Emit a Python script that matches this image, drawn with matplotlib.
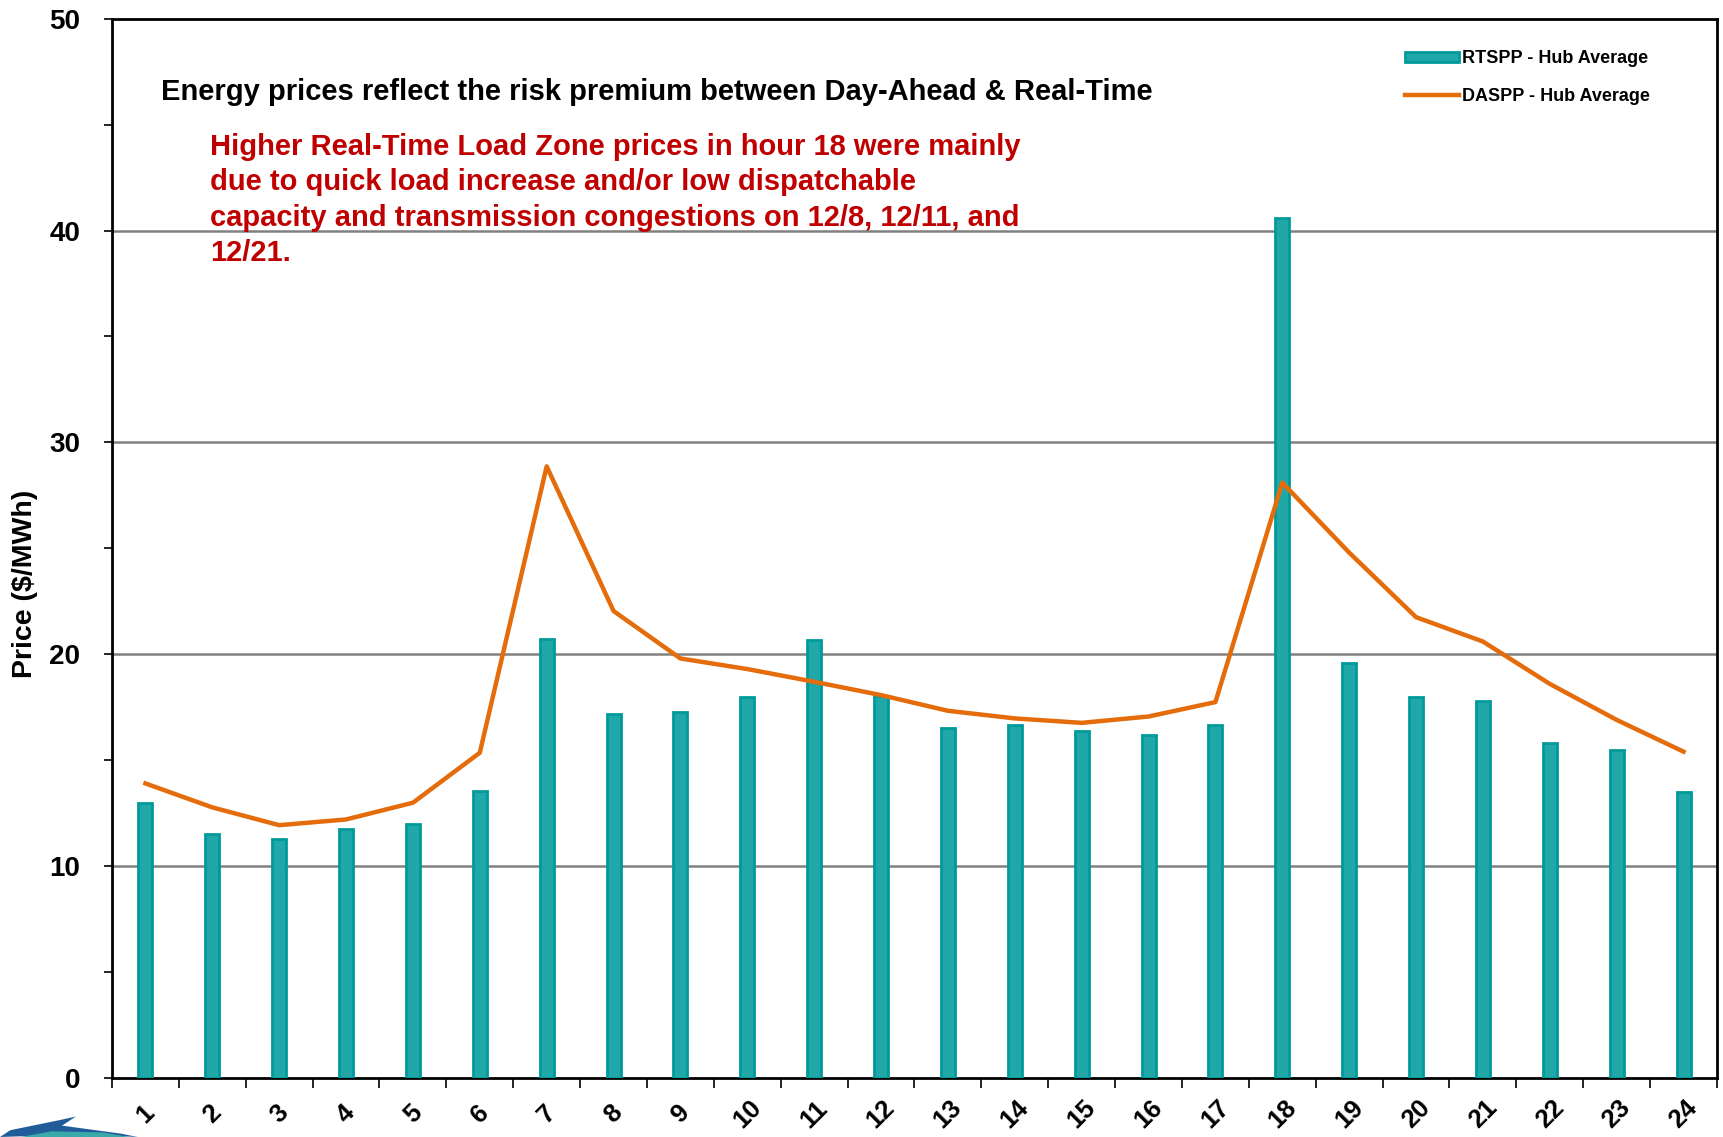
import numpy as np
import matplotlib.pyplot as plt
from matplotlib.patches import Patch, Polygon
from matplotlib.lines import Line2D

# Hourly prices ($/MWh)
hours = [str(h) for h in range(1, 25)]
rtspp = [13.0, 11.5, 11.26, 11.73, 11.98, 13.55, 20.7, 17.2, 17.25, 18.0, 20.66, 18.05,
         16.54, 16.65, 16.37, 16.2, 16.65, 40.6, 19.6, 18.0, 17.8, 15.8, 15.5, 13.5]
daspp = [13.9, 12.77, 11.93, 12.2, 12.99, 15.35, 28.87, 22.04, 19.8, 19.3, 18.7, 18.07,
         17.33, 16.97, 16.76, 17.06, 17.74, 28.1, 24.8, 21.75, 20.6, 18.6, 16.9, 15.4]

title_text = "Energy prices reflect the risk premium between Day-Ahead & Real-Time"
note_lines = ["Higher Real-Time Load Zone prices in hour 18 were mainly",
              "due to quick load increase and/or low dispatchable",
              "capacity and transmission congestions on 12/8, 12/11, and",
              "12/21."]

teal = '#20A8A8'
teal_edge = '#009A9A'
orange = '#E46C0A'
red = '#C00000'

plt.rcParams['font.family'] = ['Liberation Sans', 'DejaVu Sans']
plt.rcParams['font.weight'] = 'bold'

fig = plt.figure(figsize=(17.23, 11.37), dpi=100)
ax = fig.add_axes([0.065, 0.052, 0.9315, 0.9315])

x = np.arange(len(hours))
ax.bar(x, rtspp, width=0.21, color=teal, edgecolor=teal_edge, linewidth=2, zorder=3)
ax.plot(x, daspp, color=orange, linewidth=3.2, zorder=4, solid_joinstyle='round')

ax.set_xlim(-0.5, len(hours) - 0.5)
ax.set_ylim(0, 50)

# y axis: ticks every 5, labels on the tens
ax.set_yticks(np.arange(0, 51, 5))
ax.set_yticklabels([str(v) if v % 10 == 0 else '' for v in range(0, 51, 5)],
                   fontsize=20, fontweight='bold')
for v in [10, 20, 30, 40]:
    ax.axhline(v, color='#808080', linewidth=1.8, zorder=1)

# x axis: ticks on the category boundaries, labels in the middle
ax.set_xticks(np.arange(-0.5, len(hours), 1.0))
ax.set_xticklabels([])
ax.set_xticks(x, minor=True)
ax.set_xticklabels(hours, minor=True, rotation=45, fontsize=18.5, fontweight='bold',
                   ha='center', va='center')
ax.tick_params(axis='x', which='minor', length=0, pad=26)
ax.tick_params(axis='x', which='major', length=7, width=1.2, direction='out')
ax.tick_params(axis='y', length=6, width=1.2, direction='out', pad=17)

for s in ax.spines.values():
    s.set_linewidth(2)
    s.set_color('black')

ax.set_ylabel('Price ($/MWh)', fontsize=20.5, fontweight='bold')
ax.yaxis.set_label_coords(-0.046, 0.466)

fig.text(0.0935, 0.919, title_text, fontsize=21, fontweight='bold',
         color='black', va='center', ha='left')
for i, line in enumerate(note_lines):
    fig.text(0.122, 0.871 - i * 0.0312, line, fontsize=21, fontweight='bold',
             color=red, va='center', ha='left')

handles = [Patch(facecolor=teal, edgecolor=teal_edge, linewidth=2),
           Line2D([0], [0], color=orange, linewidth=3.2)]
leg = fig.legend(handles, ['RTSPP - Hub Average', 'DASPP - Hub Average'],
                 loc='upper left', bbox_to_anchor=(0.806, 0.97), frameon=False,
                 fontsize=13, handlelength=3.0, handleheight=0.5, handletextpad=0.15,
                 labelspacing=1.15)
for t in leg.get_texts():
    t.set_fontweight('bold')

# partial logo swoosh in the bottom-left corner
fig.patches.append(Polygon([[0, 0], [0.006, 0.006], [0.035, 0.015], [0.044, 0.018], [0.036, 0.010],
                            [0.070, 0.003], [0.080, 0], [0.040, 0.003], [0.020, 0.001]],
                           closed=True, transform=fig.transFigure, facecolor='#1F5C99',
                           edgecolor='none'))
fig.patches.append(Polygon([[0.012, 0], [0.030, 0.005], [0.060, 0.004], [0.075, 0]],
                           closed=True, transform=fig.transFigure, facecolor='#3AA9A9',
                           edgecolor='none'))

fig.savefig('out.png', dpi=100)
